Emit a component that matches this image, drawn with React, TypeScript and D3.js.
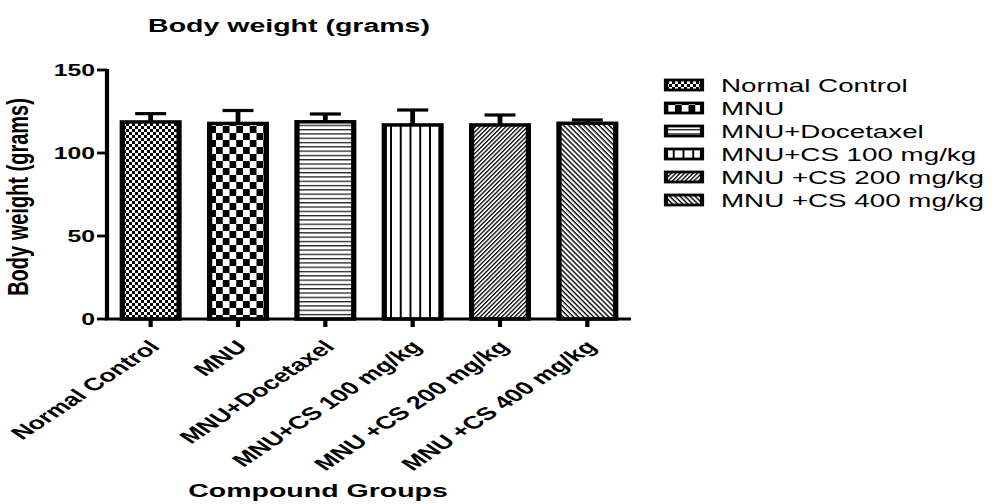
import React from "react";
import * as d3 from "d3";

const groups = [
  "Normal Control",
  "MNU",
  "MNU+Docetaxel",
  "MNU+CS 100 mg/kg",
  "MNU +CS 200 mg/kg",
  "MNU +CS 400 mg/kg",
];
const means = [118.7, 117.8, 118.8, 116.9, 116.9, 117.9];
const sems = [5.0, 7.8, 4.7, 9.0, 6.0, 2.0];
const yTicks = [0, 50, 100, 150];
const patternIds = ["pFine", "pCheck", "pHoriz", "pVert", "pDiagUp", "pDiagDown"];

const S = 1.5; // horizontal stretch of the picture
const W = 995 / S;
const H = 504;
const ix = (px: number) => px / S;
const FONT = "'Liberation Sans', Arial, sans-serif";

export default function App() {
  const x0 = ix(107);
  const x1 = ix(631);
  const yBase = 319;
  const yTop = 70;
  const x = d3
    .scaleBand<string>()
    .domain(groups)
    .range([x0, x1])
    .paddingInner(0.35)
    .paddingOuter(0.175);
  const y = d3.scaleLinear().domain([0, 150]).range([yBase, yTop]);
  const capW = ix(31);
  const legendY = [85, 108, 131, 154, 177, 200];

  return (
    <svg
      width={995}
      height={504}
      viewBox={`0 0 ${W} ${H}`}
      preserveAspectRatio="none"
      style={{ position: "absolute", left: 0, top: 0, background: "#fff" }}
      fontFamily={FONT}
    >
      <defs>
        <pattern id="pFine" patternUnits="userSpaceOnUse" width={4} height={6}>
          <rect width={4} height={6} fill="#000" />
          <rect x={0} y={0} width={2} height={3} fill="#fff" />
          <rect x={2} y={3} width={2} height={3} fill="#fff" />
        </pattern>
        <pattern id="pCheck" patternUnits="userSpaceOnUse" width={9} height={14}>
          <rect width={9} height={14} fill="#000" />
          <rect x={0} y={0} width={4.5} height={7} fill="#fff" />
          <rect x={4.5} y={7} width={4.5} height={7} fill="#fff" />
        </pattern>
        <pattern id="pHoriz" patternUnits="userSpaceOnUse" width={10} height={4.3}>
          <rect width={10} height={4.3} fill="#fff" />
          <rect x={0} y={0} width={10} height={1.3} fill="#222" />
        </pattern>
        <pattern id="pVert" patternUnits="userSpaceOnUse" width={6.5} height={10}>
          <rect width={6.5} height={10} fill="#fff" />
          <rect x={0} y={0} width={1.3} height={10} fill="#000" />
        </pattern>
        <pattern
          id="pDiagUp"
          patternUnits="userSpaceOnUse"
          width={10}
          height={2.4}
          patternTransform="rotate(-56.3)"
        >
          <rect width={10} height={2.4} fill="#fff" />
          <rect x={0} y={0} width={10} height={1.0} fill="#000" />
        </pattern>
        <pattern
          id="pDiagDown"
          patternUnits="userSpaceOnUse"
          width={10}
          height={2.8}
          patternTransform="rotate(56.3)"
        >
          <rect width={10} height={2.8} fill="#fff" />
          <rect x={0} y={0} width={10} height={1.1} fill="#000" />
        </pattern>
      </defs>

      {/* title */}
      <text
        x={ix(289)}
        y={32}
        textAnchor="middle"
        fontWeight="bold"
        fontSize={19}
      >
        Body weight (grams)
      </text>

      {/* error bars */}
      {groups.map((g, i) => {
        const cx = (x(g) as number) + x.bandwidth() / 2;
        return (
          <g key={"e" + i} stroke="#000" strokeWidth={3.2}>
            <line x1={cx} x2={cx} y1={y(means[i])} y2={y(means[i] + sems[i])} />
            <line
              x1={cx - capW / 2}
              x2={cx + capW / 2}
              y1={y(means[i] + sems[i])}
              y2={y(means[i] + sems[i])}
            />
          </g>
        );
      })}

      {/* bars */}
      {groups.map((g, i) => (
        <rect
          key={"b" + i}
          x={x(g) as number}
          y={y(means[i])}
          width={x.bandwidth()}
          height={y(0) - y(means[i])}
          fill={`url(#${patternIds[i]})`}
          stroke="#000"
          strokeWidth={3.5}
        />
      ))}

      {/* y axis */}
      <line x1={x0} x2={x0} y1={yTop - 1} y2={yBase} stroke="#000" strokeWidth={2.8} />
      {yTicks.map((t) => (
        <g key={"yt" + t}>
          <line x1={x0 - ix(10)} x2={x0} y1={y(t)} y2={y(t)} stroke="#000" strokeWidth={2.8} />
          <text
            x={ix(95)}
            y={y(t)}
            dy="0.36em"
            textAnchor="end"
            fontWeight="bold"
            fontSize={16.5}
          >
            {t}
          </text>
        </g>
      ))}

      {/* x axis */}
      <line x1={x0 - 1.4} x2={x1} y1={yBase} y2={yBase} stroke="#000" strokeWidth={2.8} />
      {groups.map((g, i) => {
        const cx = (x(g) as number) + x.bandwidth() / 2;
        return (
          <g key={"xt" + i}>
            <line x1={cx} x2={cx} y1={yBase} y2={yBase + 8} stroke="#000" strokeWidth={2.8} />
            <text
              transform={`translate(${cx + 7},${348}) rotate(-45)`}
              textAnchor="end"
              fontWeight="bold"
              fontSize={18}
            >
              {g}
            </text>
          </g>
        );
      })}

      {/* axis titles */}
      <text
        transform={`translate(${ix(28)},${197}) rotate(-90)`}
        textAnchor="middle"
        fontWeight="bold"
        fontSize={20}
      >
        Body weight (grams)
      </text>
      <text x={ix(318)} y={497} textAnchor="middle" fontWeight="bold" fontSize={19}>
        Compound Groups
      </text>

      {/* legend */}
      {groups.map((g, i) => (
        <g key={"l" + i}>
          <rect
            x={ix(666)}
            y={legendY[i] - 5}
            width={ix(36)}
            height={10}
            fill={`url(#${patternIds[i]})`}
            stroke="#000"
            strokeWidth={2.8}
          />
          <text x={ix(721)} y={legendY[i]} dy="0.36em" fontSize={18.5}>
            {g}
          </text>
        </g>
      ))}
    </svg>
  );
}
